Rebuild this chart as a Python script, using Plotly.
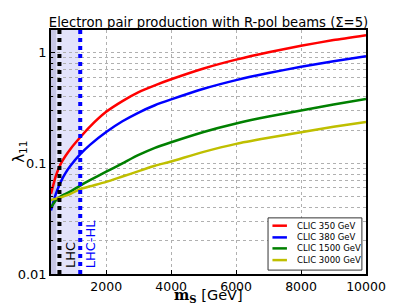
import plotly.graph_objects as go

# ---- data ----
mass = [300, 450, 600, 750, 900, 1200, 1500, 2000, 2500, 3000, 3500, 4000,
        5000, 6000, 7000, 8000, 9000, 10000]
lam_350 = [0.053, 0.077, 0.099, 0.117, 0.135, 0.172, 0.215, 0.292, 0.365, 0.44, 0.507, 0.575,
           0.72, 0.865, 1.01, 1.155, 1.30, 1.44]
lam_380 = [0.0375, 0.053, 0.068, 0.082, 0.095, 0.121, 0.147, 0.192, 0.24, 0.288, 0.335, 0.378,
           0.472, 0.565, 0.655, 0.745, 0.838, 0.93]
lam_1500 = [0.040, 0.0462, 0.0505, 0.053, 0.0557, 0.063, 0.0705, 0.084, 0.10, 0.119, 0.138, 0.155,
            0.192, 0.229, 0.265, 0.30, 0.34, 0.382]
lam_3000 = [0.0465, 0.048, 0.0492, 0.051, 0.053, 0.0585, 0.062, 0.068, 0.076, 0.085, 0.095, 0.104,
            0.127, 0.15, 0.17, 0.191, 0.214, 0.237]
series_names = ["CLIC 350 GeV", "CLIC 380 GeV", "CLIC 1500 GeV", "CLIC 3000 GeV"]
series_colors = ["#FF0000", "#0000FF", "#008000", "#BFBF00"]

lhc_limit = 560
hl_lhc_limit = 1200
dark_band_end = 460
x_min, x_max = 300, 10000
x_ticks = [2000, 4000, 6000, 8000, 10000]
x_ticklabels = ["2000", "4000", "6000", "8000", "10000"]
y_ticks = [0.01, 0.1, 1]
y_ticklabels = ["0.01", "0.1", "1"]

fig = go.Figure()

for name, vals, col in zip(series_names, [lam_350, lam_380, lam_1500, lam_3000], series_colors):
    fig.add_trace(go.Scatter(x=mass, y=vals, mode="lines", name=name, showlegend=False,
                             line=dict(color=col, width=2.5, shape="spline", smoothing=0.6)))

# shaded excluded regions
fig.add_vrect(x0=x_min, x1=hl_lhc_limit, fillcolor="rgba(60,60,230,0.14)", line_width=0, layer="below")
fig.add_vrect(x0=x_min, x1=dark_band_end, fillcolor="rgba(60,60,140,0.18)", line_width=0, layer="below")
# limit lines
fig.add_vline(x=lhc_limit, line=dict(color="black", width=4, dash="dot"))
fig.add_vline(x=hl_lhc_limit, line=dict(color="#0000FF", width=4, dash="dot"))

fig.add_annotation(x=lhc_limit, y=0, xref="x", yref="paper", text="LHC", textangle=-90,
                   showarrow=False, xanchor="left", yanchor="bottom", xshift=1, yshift=4,
                   font=dict(family="DejaVu Sans", size=13, color="black"))
fig.add_annotation(x=hl_lhc_limit, y=0, xref="x", yref="paper", text="LHC-HL", textangle=-90,
                   showarrow=False, xanchor="left", yanchor="bottom", xshift=1, yshift=4,
                   font=dict(family="DejaVu Sans", size=13, color="#0000FF"))

# axis titles (annotations, to fit the tight margins like the reference)
fig.add_annotation(x=0.5, y=-0.09, xref="paper", yref="paper", showarrow=False,
                   xanchor="center", yanchor="middle",
                   text="<span style='font-family:DejaVu Serif'><b>m</b><sub><b>S</b></sub></span> [GeV]",
                   font=dict(family="DejaVu Sans", size=14.5, color="black"))
fig.add_annotation(x=-0.102, y=0.5, xref="paper", yref="paper", showarrow=False,
                   xanchor="center", yanchor="middle", textangle=-90,
                   text="λ<sub>11</sub>", font=dict(family="DejaVu Sans", size=15, color="black"))

# compact legend box (layout, paper coordinates)
leg_x0, leg_x1, leg_y0, leg_y1 = 0.689, 0.987, 0.016, 0.230
fig.add_shape(type="rect", xref="paper", yref="paper", x0=leg_x0, x1=leg_x1, y0=leg_y0, y1=leg_y1,
              line=dict(color="#333", width=1), fillcolor="white", layer="above")
leg_rows = [0.198, 0.150, 0.105, 0.057]
for name, col, yy in zip(series_names, series_colors, leg_rows):
    fig.add_shape(type="line", xref="paper", yref="paper", x0=0.703, x1=0.749, y0=yy, y1=yy,
                  line=dict(color=col, width=2.5), layer="above")
    fig.add_annotation(x=0.775, y=yy, xref="paper", yref="paper", text=name, showarrow=False,
                       xanchor="left", yanchor="middle",
                       font=dict(family="DejaVu Sans", size=8.5, color="black"))

fig.update_layout(
    width=407, height=305,
    margin=dict(l=51, r=41, t=30, b=31, autoexpand=False),
    paper_bgcolor="white", plot_bgcolor="white",
    font=dict(family="DejaVu Sans", size=12, color="black"),
    title=dict(text="Electron pair production with R-pol beams (Σ=5)",
               x=0.5, xref="paper", xanchor="center", y=1, yref="paper", yanchor="bottom",
               pad=dict(b=3), font=dict(size=13.2)),
    showlegend=False,
)

fig.update_xaxes(range=[x_min, x_max], tickvals=x_ticks, ticktext=x_ticklabels,
                 automargin=False, showline=True, linecolor="black",
                 linewidth=1.5, mirror=True, ticks="inside", ticklen=4, tickcolor="black",
                 showgrid=True, gridcolor="#b0b0b0", griddash="dot", gridwidth=1,
                 zeroline=False, tickfont=dict(size=12.5), ticklabelstandoff=0)
fig.update_yaxes(type="log", range=[-2, 0.205], tickvals=y_ticks, ticktext=y_ticklabels,
                 automargin=False, showline=True, linecolor="black", linewidth=1.5, mirror=True,
                 ticks="inside", ticklen=4, tickcolor="black",
                 showgrid=True, gridcolor="#b0b0b0", griddash="dot", gridwidth=1,
                 minor=dict(dtick="D1", showgrid=True, gridcolor="#b0b0b0", griddash="dot",
                            ticks="inside", ticklen=2, tickcolor="black"),
                 zeroline=False, tickfont=dict(size=13))

fig.write_html("out.html", config={"displayModeBar": False},
               post_script="document.body.style.margin='0';")
